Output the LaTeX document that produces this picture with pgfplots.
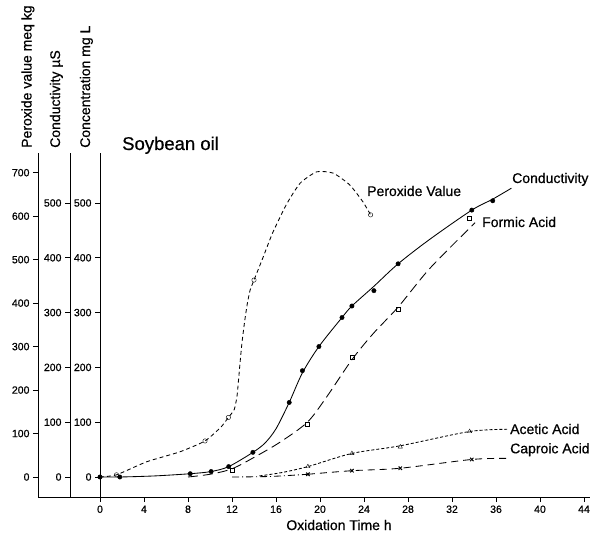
\documentclass[border=0pt]{standalone}
\usepackage{fontspec}
\setmainfont{Liberation Sans}[FakeBold=0.6]
\usepackage{pgfplots}
\pgfplotsset{compat=1.18}
\begin{document}
\begin{tikzpicture}[font=\fontsize{14}{16}\selectfont]
\useasboundingbox (0,0) rectangle (596pt,541pt);
\pgfplotsset{
  base/.style={scale only axis, anchor=south west, height=344pt,
    /pgf/number format/assume math mode=true,
    ticklabel style={font=\fontsize{10.5}{12}\selectfont},
    tick align=outside, major tick length=5pt,
    tick style={black, line width=0.8pt},
    axis line style={line width=0.9pt},
    clip=false},
  curve/.style={black, line width=0.85pt, smooth, tension=0.5, no marks},
}
% ---- peroxide value axis (full size, carries the x axis) ----
\begin{axis}[base, at={(38pt,44pt)}, width=552pt,
  xmin=-5.636, xmax=44.545, ymin=-46.0, ymax=745.3,
  axis y line*=left, axis x line*=bottom,
  xtick={0,4,...,44}, ytick={0,100,...,700}]
\addplot[curve, tension=0.35, dash pattern=on 4pt off 3pt] coordinates {
 (0,0) (1.5,5) (4.24,35) (7.27,58) (9.55,83) (11.0,115) (11.67,137) (12.2,155)
 (12.45,185) (12.6,225) (12.75,268) (12.92,312) (13.15,358) (13.4,400) (13.65,430)
 (14.0,453) (14.85,507) (15.7,562) (16.97,628) (18.2,676) (19.7,702)
 (21.2,699) (22.7,672) (23.9,633) (24.6,603)};
\addplot[only marks, mark=o, mark size=2.2pt, black] coordinates {
 (1.5,5) (9.55,83) (11.67,137) (14.0,453) (24.6,603)};
\end{axis}
% ---- concentration / conductivity data (hidden axes) ----
\begin{axis}[base, at={(38pt,44pt)}, width=552pt,
  xmin=-5.636, xmax=44.545, ymin=-36.5, ymax=591.2,
  hide x axis, hide y axis]
% Conductivity
\addplot[curve] coordinates {
 (0,0) (1.8,0) (5,2) (8.2,6) (10.1,10) (11.7,19) (13.9,45) (15.0,62) (16.0,88) (17.2,136)
 (18.4,190) (19.9,238) (22.0,291) (22.9,312) (24.9,348) (27.1,389) (30,434) (33.8,487) (35.7,507) (37.4,527)};
\addplot[only marks, mark=*, mark size=2.2pt, black] coordinates {
 (0,0) (1.8,0) (8.2,6) (10.1,10) (11.7,19) (13.9,45) (17.2,136) (18.4,194)
 (19.9,238) (22.0,291) (22.9,312) (24.9,340) (27.1,389) (33.8,487) (35.7,504)};
% Formic acid
\addplot[curve, dash pattern=on 10pt off 5pt] coordinates {
 (8,0) (10,5) (12,15) (14.2,38) (16.4,64) (18.85,100) (20.6,146) (22.9,214)
 (24.85,262) (27.1,310) (30,381) (34.1,464)};
\addplot[only marks, mark=square, mark size=2pt, black] coordinates {
 (12,13) (18.85,97) (22.9,218) (27.1,306) (33.6,472)};
% Acetic acid
\addplot[curve, dash pattern=on 3pt off 2pt] coordinates {
 (14.5,2) (16.5,8) (18.9,19) (22.9,43) (27.3,57) (33.6,83) (37,87)};
\addplot[only marks, mark=triangle, mark size=2.4pt, black] coordinates {
 (18.9,19) (22.9,43) (27.3,55) (33.6,83)};
% Caproic acid
\addplot[curve, dash pattern=on 7pt off 3pt on 1pt off 3pt] coordinates {
 (12,0) (15.5,1) (18.9,5)};
\addplot[curve, dash pattern=on 7pt off 5pt] coordinates {
 (18.9,5) (22.9,11.5) (27.3,16) (33.8,32) (37,34)};
\addplot[only marks, mark=x, mark size=2.4pt, black, line width=1pt] coordinates {
 (18.9,5) (22.9,11.5) (27.3,16) (33.8,32)};
\end{axis}
% ---- conductivity axis ----
\begin{axis}[base, at={(70pt,44pt)}, width=1pt,
  xmin=0, xmax=1, ymin=-36.5, ymax=591.2,
  hide x axis, axis y line*=left, ytick={0,100,...,500}]
\end{axis}
% ---- concentration axis ----
\begin{axis}[base, at={(100pt,44pt)}, width=1pt,
  xmin=0, xmax=1, ymin=-36.5, ymax=591.2,
  hide x axis, axis y line*=left, ytick={0,100,...,500}]
\end{axis}
% ---- texts ----
\node[rotate=90, anchor=base west, inner sep=0] at (31.5pt,393pt) {Peroxide value meq kg};
\node[rotate=90, anchor=base west, inner sep=0] at (60pt,393pt) {Conductivity µS};
\node[rotate=90, anchor=base west, inner sep=0] at (90pt,393pt) {Concentration mg L};
\node[anchor=base west, inner sep=0, font=\fontsize{18.5}{20}\selectfont] at (122pt,391pt) {Soybean oil};
\node[anchor=base, inner sep=0] at (339pt,11pt) {Oxidation Time h};
\node[anchor=base west, inner sep=0] at (367pt,345pt) {Peroxide Value};
\node[anchor=base west, inner sep=0] at (512pt,358pt) {Conductivity};
\node[anchor=base west, inner sep=0] at (482pt,314pt) {Formic Acid};
\node[anchor=base west, inner sep=0] at (510pt,107pt) {Acetic Acid};
\node[anchor=base west, inner sep=0] at (510pt,87.7pt) {Caproic Acid};
\end{tikzpicture}
\end{document}
